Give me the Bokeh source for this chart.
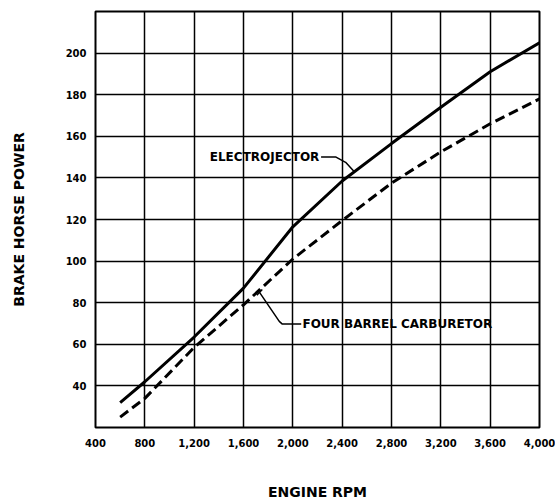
from bokeh.plotting import figure
from bokeh.models import FixedTicker, NumeralTickFormatter, Range1d
from bokeh.core.properties import value
from bokeh.embed import file_html
from bokeh.resources import INLINE

# ---- data ----
electro_rpm = [600, 800, 1200, 1600, 2000, 2400, 2800, 3200, 3600, 4000]
electro_hp = [32, 42, 63.5, 87, 116.5, 138.5, 156.5, 174, 191, 205]

carb_rpm = [600, 800, 1200, 1600, 2000, 2400, 2800, 3200, 3600, 4000]
carb_hp = [25, 34, 58.5, 79, 101, 119.5, 137.5, 152.5, 166, 178]

x_ticks = [400, 800, 1200, 1600, 2000, 2400, 2800, 3200, 3600, 4000]
y_ticks = [40, 60, 80, 100, 120, 140, 160, 180, 200]

FONT = "DejaVu Sans"

p = figure(width=555, height=503, output_backend="svg", toolbar_location=None,
           x_range=Range1d(400, 4000), y_range=Range1d(20, 220),
           min_border_left=95, min_border_right=16, min_border_top=11, min_border_bottom=76,
           x_axis_label="ENGINE RPM", y_axis_label="BRAKE HORSE POWER")

p.background_fill_color = "white"
p.border_fill_color = "white"
p.outline_line_color = "black"
p.outline_line_width = 2

p.xaxis.ticker = FixedTicker(ticks=x_ticks)
p.yaxis.ticker = FixedTicker(ticks=y_ticks)
p.xaxis.formatter = NumeralTickFormatter(format="0,0")

for ax in (p.xaxis, p.yaxis):
    ax.axis_line_color = None
    ax.major_tick_line_color = None
    ax.minor_tick_line_color = None
    ax.major_label_text_font = FONT
    ax.major_label_text_font_style = "bold"
    ax.major_label_text_font_size = "10px"
    ax.major_label_text_color = "black"
    ax.axis_label_text_font = FONT
    ax.axis_label_text_font_style = "bold"
    ax.axis_label_text_font_size = "14px"
    ax.axis_label_text_color = "black"

p.xaxis.major_label_standoff = 5
p.yaxis.major_label_standoff = 3
p.xaxis.axis_label_standoff = 34
p.yaxis.axis_label_standoff = 36

for g in (p.xgrid, p.ygrid):
    g.grid_line_color = "black"
    g.grid_line_width = 1.5
    g.grid_line_alpha = 1.0

# ---- curves ----
p.line(electro_rpm, electro_hp, line_color="black", line_width=3)
p.line(carb_rpm, carb_hp, line_color="black", line_width=3, line_dash="10 5")

# ---- annotations ----
p.text(x=[2215], y=[150], text=["ELECTROJECTOR"], text_align="right",
       text_baseline="middle", text_font=value(FONT), text_font_style="bold",
       text_font_size="12px", text_color="black")
p.line([2229, 2350, 2428, 2495], [150, 150, 147.5, 143.2], line_color="black", line_width=1.5)

p.text(x=[2078], y=[69.7], text=["FOUR BARREL CARBURETOR"], text_align="left",
       text_baseline="middle", text_font=value(FONT), text_font_style="bold",
       text_font_size="12px", text_color="black")
p.line([2068, 1915, 1890, 1730], [69.7, 69.7, 71.0, 85], line_color="black", line_width=1.5)
p.line([1708, 1752], [83.6, 86.4], line_color="black", line_width=1.5)

open("out.html", "w").write(file_html(p, INLINE))
